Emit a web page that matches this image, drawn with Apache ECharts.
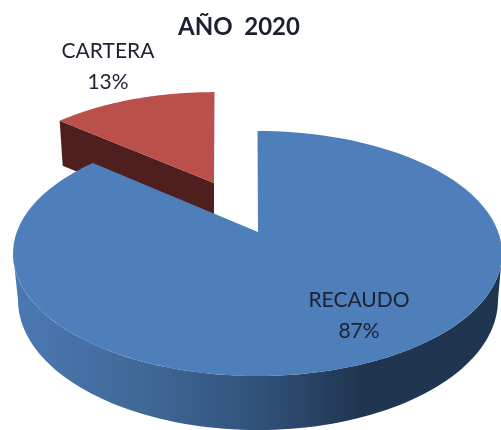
<!DOCTYPE html>
<html>
<head>
<meta charset="utf-8">
<style>
  html, body { margin: 0; padding: 0; background: #fff; }
  #chart { width: 501px; height: 430px; }
</style>
<script src="https://cdn.jsdelivr.net/npm/echarts@6/dist/echarts.min.js"></script>
</head>
<body>
<div id="chart"></div>
<script>
const categories = ['RECAUDO', 'CARTERA'];
const values = [87, 13];
const chartTitle = 'AÑO  2020';

const FONT = 'Lato, "Open Sans", sans-serif';
const TEXT_COLOR = '#1c2230';

// 3d look of each slice, the slice angles still come from values
const sliceStyles = [
  {
    apex: [258, 232], center: [257.5, 253.5], rx: 244.5, ry: 122.5,
    base: { center: [258, 300], rx: 240, ry: 130 },
    face: '#4e7fbb',
    label: [359, 316],
    z: 3
  },
  {
    apex: [214, 183], center: [214.5, 202.4], rx: 230, ry: 110.3,
    depth: 45,
    face: '#ba4f4c',
    wall: '#4f1f1e',
    label: [108, 67],
    z: 1
  }
];

function rimPoint(s, theta) {
  // the tilt bends the angles a little on the ellipse
  const t = theta - (4.5 * Math.PI / 180) * Math.sin(2 * theta);
  return [s.center[0] + s.rx * Math.sin(t), s.center[1] - s.ry * Math.cos(t)];
}

function arcPoints(c, rx, ry, from, to) {
  const pts = [];
  for (let i = 0; i <= 90; i++) {
    const t = from + (to - from) * i / 90;
    pts.push([c[0] + rx * Math.sin(t), c[1] - ry * Math.cos(t)]);
  }
  return pts;
}

const total = values.reduce((a, b) => a + b, 0);

function renderSlice(params, api) {
  const idx = params.dataIndex;
  const s = sliceStyles[idx];
  const before = values.slice(0, idx).reduce((a, b) => a + b, 0);
  const from = before / total * Math.PI * 2;
  const to = from + api.value(1) / total * Math.PI * 2;

  const rim = [];
  for (let i = 0; i <= 120; i++) {
    rim.push(rimPoint(s, from + (to - from) * i / 120));
  }

  const children = [];

  if (s.base) {
    // front wall of the big slice
    const top = arcPoints(s.center, s.rx, s.ry, Math.PI / 2, Math.PI * 1.5);
    const bottom = arcPoints(s.base.center, s.base.rx, s.base.ry, Math.PI * 1.5, Math.PI / 2);
    children.push({
      type: 'polygon',
      z2: s.z,
      shape: { points: top.concat(bottom) },
      style: {
        fill: new echarts.graphic.LinearGradient(0, 0, 1, 0, [
          { offset: 0, color: '#4b79b2' },
          { offset: 0.28, color: '#3f6796' },
          { offset: 0.5, color: '#31527a' },
          { offset: 0.72, color: '#20344f' },
          { offset: 1, color: '#1f3550' }
        ])
      }
    });
  } else {
    // cut side of the pulled out slice
    const corner = rim[0];
    children.push({
      type: 'polygon',
      z2: s.z,
      shape: {
        points: [
          corner,
          s.apex,
          [s.apex[0], s.apex[1] + s.depth],
          [corner[0] + 3, corner[1] + s.depth]
        ]
      },
      style: { fill: s.wall }
    });
  }

  children.push({
    type: 'polygon',
    z2: s.z + 1,
    shape: { points: [s.apex].concat(rim) },
    style: { fill: s.face }
  });

  children.push({
    type: 'text',
    z2: 10,
    x: s.label[0],
    y: s.label[1],
    style: {
      text: api.value(0) + '\n' + Math.round(api.value(1) / total * 100) + '%',
      font: '21px ' + FONT,
      lineHeight: 31,
      fill: TEXT_COLOR,
      align: 'center',
      verticalAlign: 'middle'
    }
  });

  return { type: 'group', children };
}

const chart = echarts.init(document.getElementById('chart'), null, { renderer: 'canvas' });

chart.setOption({
  backgroundColor: '#fff',
  animation: false,
  title: {
    text: chartTitle,
    left: 234,
    top: 10,
    textAlign: 'center',
    textStyle: {
      fontFamily: FONT,
      fontSize: 24,
      fontWeight: 'bold',
      color: '#1a2030'
    }
  },
  series: [
    {
      type: 'custom',
      coordinateSystem: 'none',
      renderItem: renderSlice,
      data: categories.map((name, i) => [name, values[i]])
    }
  ]
});
</script>
</body>
</html>
